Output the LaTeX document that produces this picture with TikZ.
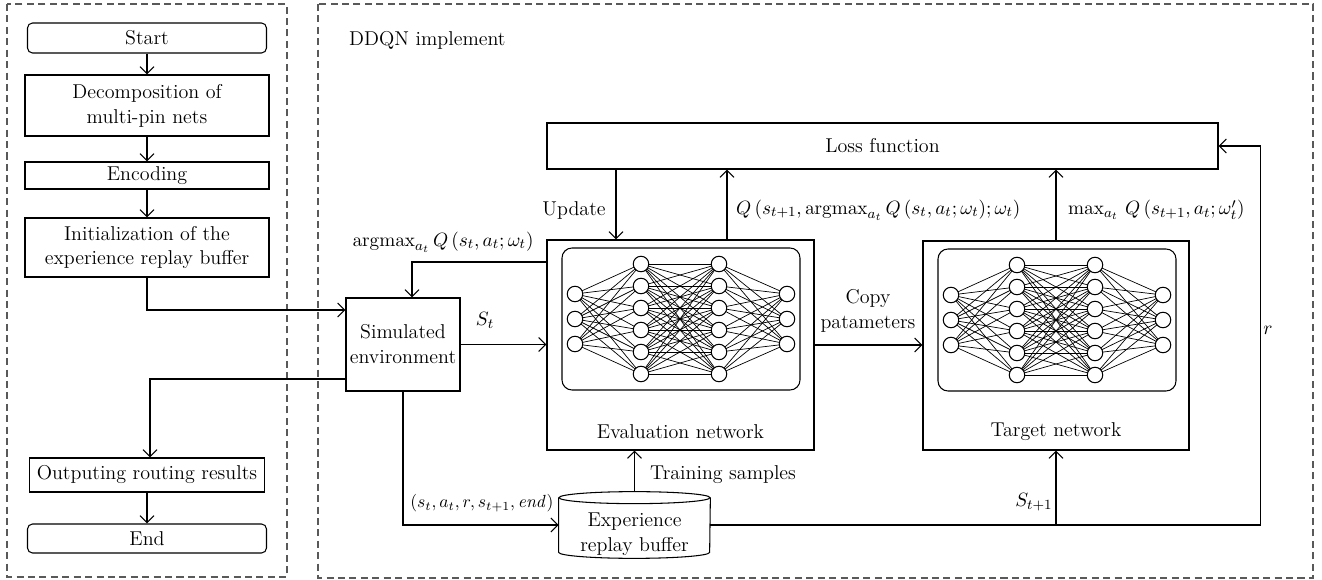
\documentclass[tikz,border=0pt]{standalone}
\usetikzlibrary{arrows.meta}
\definecolor{FrameClr}{rgb}{0.35,0.35,0.35}

\newcommand{\qnet}[1]{%
  \begin{scope}[shift={(#1)}]
    \draw[line width=0.6pt,rounded corners=2mm] (-119,-71) rectangle (119,71);
    \foreach \a in {-1,0,1}
      \foreach \b in {-2.5,-1.5,...,2.5} {
        \draw[netedge] (-106,\a*25) -- (-40,\b*22);
        \draw[netedge] (106,\a*25) -- (38,\b*22);
      }
    \foreach \a in {-2.5,-1.5,...,2.5}
      \foreach \b in {-2.5,-1.5,...,2.5}
        \draw[netedge] (-40,\a*22) -- (38,\b*22);
    \foreach \a in {-1,0,1} {
      \draw[neuron] (-106,\a*25) circle[radius=1.55mm];
      \draw[neuron] (106,\a*25) circle[radius=1.55mm];
    }
    \foreach \b in {-2.5,-1.5,...,2.5} {
      \draw[neuron] (-40,\b*22) circle[radius=1.55mm];
      \draw[neuron] (38,\b*22) circle[radius=1.55mm];
    }
  \end{scope}}

\begin{document}
\begin{tikzpicture}[x=0.2mm,y=-0.2mm,font=\fontsize{11.4}{14.2}\selectfont,
  region/.style={draw=FrameClr,line width=0.7pt,dash pattern=on 4pt off 2.5pt},
  box/.style={draw,line width=0.6pt,inner sep=0pt,align=center},
  term/.style={box,rounded corners=1mm},
  flow/.style={line width=0.6pt,-{Straight Barb[length=4pt,width=8pt]}},
  netedge/.style={line width=0.4pt},
  neuron/.style={line width=0.6pt,fill=white}]
\useasboundingbox (0,0) rectangle (1322,580);

\draw[region] (7,4) rectangle (287,577);
\draw[region] (318,4) rectangle (1313,578);
\node[anchor=west] (ddqn) at (343,40) {DDQN implement};

\node[term,minimum width=47.8mm,minimum height=6mm] (start) at (147,38) {Start};
\node[box,minimum width=48.8mm,minimum height=12.2mm] (decomp) at (147,105.5) {Decomposition of\\multi-pin nets};
\node[box,minimum width=48.8mm,minimum height=5.4mm] (enc) at (147,175.5) {Encoding};
\node[box,minimum width=48.8mm,minimum height=11.8mm] (init) at (147,247.5) {Initialization of the\\experience replay buffer};
\node[box,minimum width=47mm,minimum height=6.8mm] (output) at (147,475) {Outputing routing results};
\node[term,minimum width=47.8mm,minimum height=5.8mm] (stop) at (147,538.5) {End};

\node[box,minimum width=22.8mm,minimum height=18.6mm] (sim) at (403,344.5) {Simulated\\environment};
\node[box,minimum width=134.2mm,minimum height=9.2mm] (loss) at (882.5,146) {Loss function};
\node[box,minimum width=53.4mm,minimum height=42mm] (evalnet) at (680.5,345) {};
\node[box,minimum width=53.2mm,minimum height=41.8mm] (targnet) at (1056,345.5) {};
\node[inner sep=0pt,minimum width=30.2mm,minimum height=13.2mm] (buffer) at (634.5,525) {};
\draw[line width=0.6pt] ([yshift=-1.2mm]buffer.north) ellipse [x radius=15.1mm,y radius=1.2mm];
\draw[line width=0.6pt] ([yshift=-1.2mm]buffer.north west) -- ([yshift=1.2mm]buffer.south west)
  arc[start angle=180,end angle=360,x radius=15.1mm,y radius=1.2mm] -- ([yshift=-1.2mm]buffer.north east);
\node[align=center] (buftxt) at (634.5,534) {Experience\\replay buffer};

\qnet{681,319}
\qnet{1057,320}
\node (evaltxt) at (680.5,432) {Evaluation network};
\node (targtxt) at (1056,432) {Target network};

\draw[flow] (start) -- (decomp);
\draw[flow] (decomp) -- (enc);
\draw[flow] (enc) -- (init);
\draw[flow] (output) -- (stop);
\draw[flow] (init.south) |- (sim.west |- 0,310);
\draw[flow] (sim.west |- 0,379) -| (output.north -| 150,0);

\draw[flow] (evalnet.west |- 0,262) -| (sim.north -| 412,0);
\draw[flow] (sim.east) -- (sim.east -| evalnet.west);
\draw[flow] (loss.south -| 616,0) -- (evalnet.north -| 616,0);
\draw[flow] (evalnet.north -| 727,0) -- (loss.south -| 727,0);
\draw[flow] (targnet.north) -- (targnet.north |- loss.south);
\draw[flow] (evalnet.east) -- (evalnet.east -| targnet.west);
\draw[flow] (sim.south) |- (buffer.west);
\draw[flow] (buffer.north) -- (buffer.north |- evalnet.south);
\draw[flow] (targnet.south |- buffer.east) -- (targnet.south);
\draw[flow] (buffer.east) -- ++(550,0) |- (loss.east);

\node (upd) at (574,210) {Update};
\node[anchor=west] (qeval) at (730,210) {$Q\,(s_{t+1}, \mathrm{argmax}_{a_t}\,Q\,(s_t, a_t; \omega_t); \omega_t)$};
\node[anchor=west] (qtarg) at (1062,210) {$\max_{a_t}\,Q\,(s_{t+1}, a_t; \omega'_t)$};
\node (amax) at (443,242) {$\mathrm{argmax}_{a_t}\,Q\,(s_t, a_t; \omega_t)$};
\node (st) at (485,320) {$S_t$};
\node[align=center] (copy) at (868,311) {Copy\\patameters};
\node[anchor=west,inner sep=0pt,font=\fontsize{10}{12}\selectfont] (trans) at (410,503) {$(s_t, a_t, r, s_{t+1}, \mathit{end})$};
\node[anchor=west] (train) at (644,475) {Training samples};
\node (st1) at (1034,502) {$S_{t+1}$};
\node (rew) at (1268,330) {$r$};
\end{tikzpicture}
\end{document}
